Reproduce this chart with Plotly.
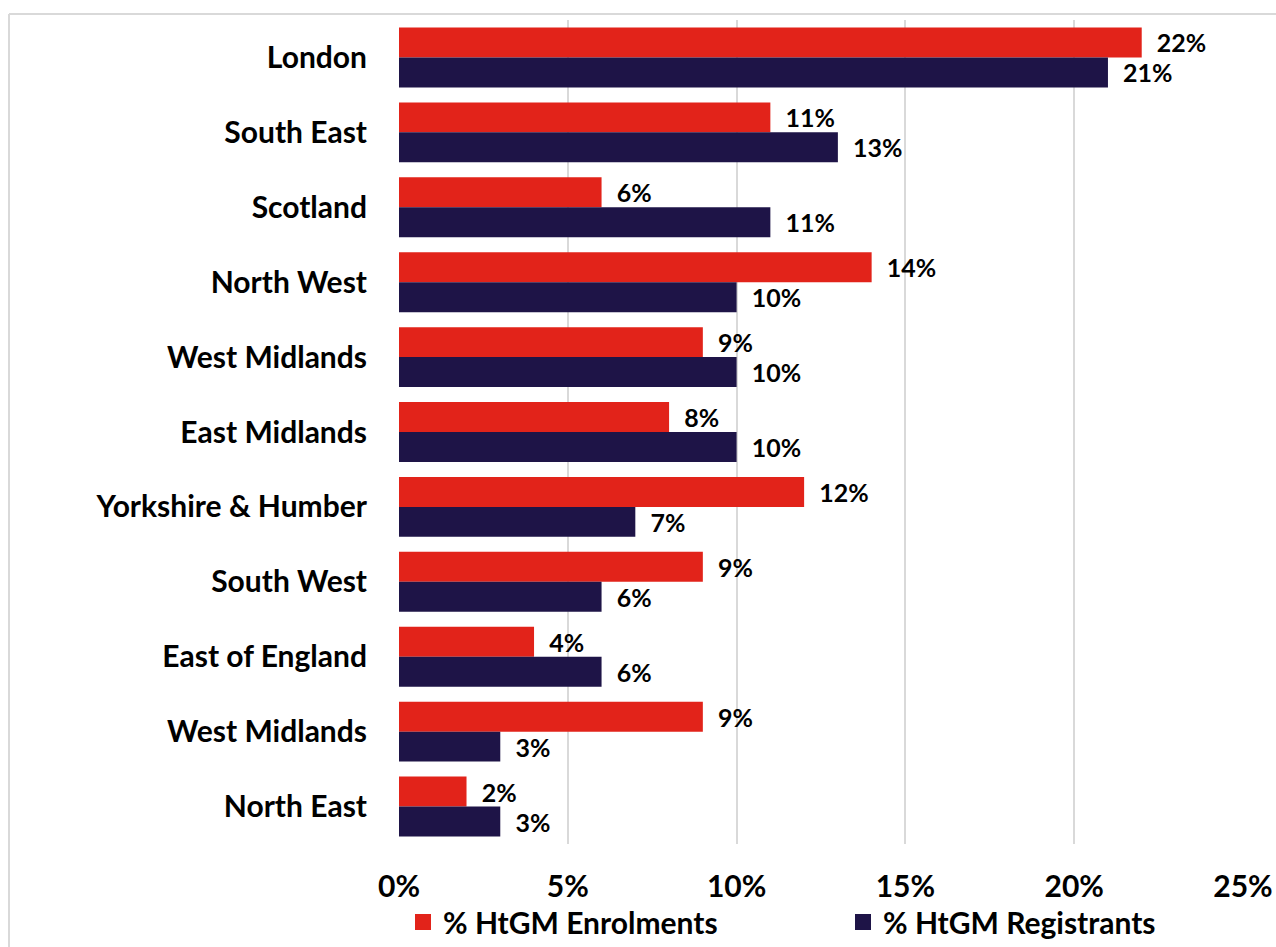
import plotly.graph_objects as go

regions = ["London", "South East", "Scotland", "North West", "West Midlands",
           "East Midlands", "Yorkshire & Humber", "South West", "East of England",
           "West Midlands", "North East"]
enrolments = [22, 11, 6, 14, 9, 8, 12, 9, 4, 9, 2]
registrants = [21, 13, 11, 10, 10, 10, 7, 6, 6, 3, 3]
x_ticks = [0, 5, 10, 15, 20, 25]
x_tick_labels = ["0%", "5%", "10%", "15%", "20%", "25%"]

pos = list(range(len(regions)))
RED = "#E2231A"
NAVY = "#1E1447"
FONT = "Lato"
FS = 30

W, H = 1276, 947
L, T = 399, 20
R = W - 1243
B = H - 844
pw, ph = W - L - R, H - T - B

fig = go.Figure()
for name, vals, col, leg in [("% HtGM Enrolments", enrolments, RED, "legend"),
                             ("% HtGM Registrants", registrants, NAVY, "legend2")]:
    fig.add_trace(go.Bar(
        y=pos, x=vals, orientation="h", name=name, showlegend=False,
        marker=dict(color=col, line=dict(width=0)),
        text=[f"{v}%" for v in vals], texttemplate="  %{text}",
        textposition="outside", cliponaxis=False,
        textfont=dict(family=FONT, size=FS, color="black", weight="bold"),
    ))
    # legend entry with a square key
    fig.add_trace(go.Scatter(
        x=[None], y=[None], mode="markers", name=name, legend=leg,
        marker=dict(symbol="square", size=17, color=col),
    ))

leg_y = -(922 - 844) / ph
fig.update_layout(
    width=W, height=H,
    margin=dict(l=L, r=R, t=T, b=B, autoexpand=False),
    barmode="group", bargap=0.2, bargroupgap=0,
    plot_bgcolor="white", paper_bgcolor="white",
    font=dict(family=FONT, size=FS, color="black", weight="bold"),
    xaxis=dict(range=[0, 25], tickvals=x_ticks, ticktext=x_tick_labels,
               showgrid=True, gridcolor="#D9D9D9", gridwidth=2,
               zeroline=False, showline=False, automargin=False,
               ticks="outside", ticklen=0, ticklabelstandoff=16,
               ticklabeloverflow="allow",
               tickfont=dict(family=FONT, size=FS, weight="bold")),
    yaxis=dict(tickvals=pos, ticktext=regions,
               range=[len(regions) - 0.5, -0.5],
               showgrid=False, zeroline=False, showline=False, automargin=False,
               ticks="outside", ticklen=0, ticklabelstandoff=25,
               tickfont=dict(family=FONT, size=FS, weight="bold")),
    legend=dict(orientation="h", x=4 / pw, xanchor="left",
                y=leg_y, yanchor="middle", itemwidth=30, bgcolor="rgba(0,0,0,0)",
                font=dict(family=FONT, size=FS, weight="bold")),
    legend2=dict(orientation="h", x=444 / pw, xanchor="left",
                 y=leg_y, yanchor="middle", itemwidth=30, bgcolor="rgba(0,0,0,0)",
                 font=dict(family=FONT, size=FS, weight="bold")),
    showlegend=True,
)

# outer chart frame (light gray)
x0 = (9 - L) / pw
y1 = 1 + (T - 14) / ph
fig.add_shape(type="line", xref="paper", yref="paper", x0=x0, x1=(W - L + 5) / pw,
              y0=y1, y1=y1, line=dict(color="#D9D9D9", width=2))
fig.add_shape(type="line", xref="paper", yref="paper", x0=x0, x1=x0,
              y0=y1, y1=-(B + 5) / ph, line=dict(color="#D9D9D9", width=2))

fig.write_html("out.html",
               config={"displayModeBar": False},
               post_script="document.body.style.margin='0';"
                           "document.body.style.overflow='hidden';")
